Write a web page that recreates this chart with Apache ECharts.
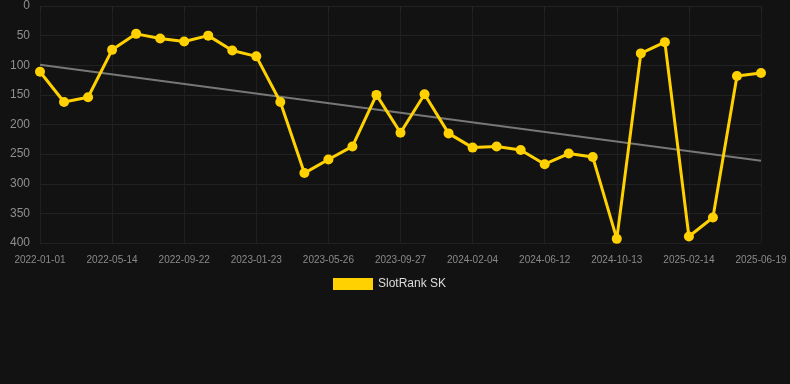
<!DOCTYPE html>
<html><head><meta charset="utf-8">
<script src="https://cdn.jsdelivr.net/npm/echarts@6/dist/echarts.min.js"></script>
<style>html,body{margin:0;padding:0;background:#121212}#c{width:790px;height:384px}</style>
</head><body><div id="c"></div>
<script>
const categories = [
  "2022-01-01","2022-02-14","2022-03-30","2022-05-14","2022-06-27","2022-08-09",
  "2022-09-22","2022-11-02","2022-12-13","2023-01-23","2023-03-07","2023-04-15",
  "2023-05-26","2023-07-08","2023-08-18","2023-09-27","2023-11-10","2023-12-24",
  "2024-02-04","2024-03-20","2024-04-30","2024-06-12","2024-07-27","2024-09-02",
  "2024-10-13","2024-11-27","2025-01-03","2025-02-14","2025-03-28","2025-05-08",
  "2025-06-19"
];
const rankValues = [111,162,154,74,47,55,60,50,75,85,162,282,259,237,150,214,149,215,239,237,243,267,249,255,393,80,61,389,357,118,113];
const trendStart = 99;
const trendEnd = 261;
const seriesName = "SlotRank SK";

const chart = echarts.init(document.getElementById('c'));
chart.setOption({
  backgroundColor: '#121212',
  animation: false,
  grid: {left: 40, right: 29, top: 6, bottom: 141},
  legend: {
    top: 273, left: 328,
    itemWidth: 40, itemHeight: 12, icon: 'rect',
    data: [seriesName],
    textStyle: {color: '#dddddd', fontSize: 12, fontFamily: 'Liberation Sans, Arial, sans-serif'}
  },
  xAxis: {
    type: 'category', data: categories, boundaryGap: false,
    axisLine: {show: false},
    axisTick: {show: true, interval: 2, length: 5, lineStyle: {color: '#262626'}},
    axisLabel: {interval: 2, color: '#8a8a8a', fontSize: 10, margin: 12, fontFamily: 'Liberation Sans, Arial, sans-serif'},
    splitLine: {show: true, interval: 2, lineStyle: {color: '#1f1f1f'}}
  },
  yAxis: {
    type: 'value', inverse: true, min: 0, max: 400, interval: 50,
    axisLine: {show: false}, axisTick: {show: false},
    axisLabel: {color: '#8f8f8f', fontSize: 12, margin: 10, fontFamily: 'Liberation Sans, Arial, sans-serif'},
    splitLine: {lineStyle: {color: '#222222'}}
  },
  series: [
    {
      name: seriesName, type: 'line', data: rankValues,
      symbol: 'circle', symbolSize: 10,
      lineStyle: {color: '#ffd100', width: 3},
      itemStyle: {color: '#ffd100'},
      z: 3
    },
    {
      name: 'trend', type: 'line',
      data: [[0, trendStart], [categories.length - 1, trendEnd]],
      symbol: 'none',
      lineStyle: {color: '#777777', width: 2},
      z: 2
    }
  ]
});
</script></body></html>
